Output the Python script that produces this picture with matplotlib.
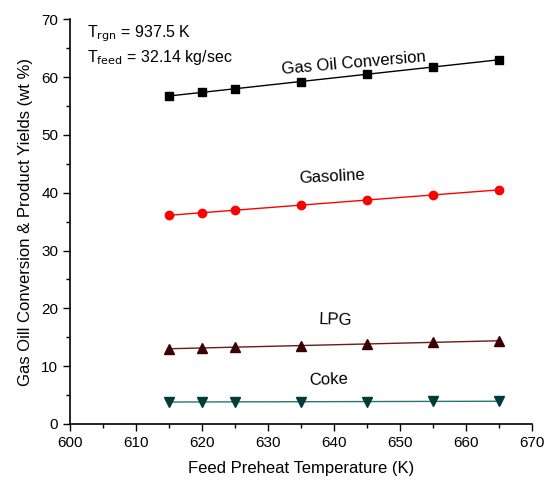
import matplotlib
matplotlib.use("Agg")
import matplotlib.pyplot as plt
import numpy as np
from matplotlib.ticker import MultipleLocator

plt.rcParams['font.family'] = ['Liberation Sans', 'DejaVu Sans']

temps = [615, 620, 625, 635, 645, 655, 665]
gas_oil = [56.7, 57.4, 57.95, 59.2, 60.5, 61.7, 63.0]
gasoline = [36.1, 36.5, 37.0, 37.85, 38.7, 39.6, 40.5]
lpg = [13.0, 13.15, 13.3, 13.55, 13.85, 14.1, 14.4]
coke = [3.8, 3.8, 3.85, 3.85, 3.85, 3.9, 3.95]

fig = plt.figure(figsize=(5.44, 4.8), dpi=100)
ax = fig.add_axes([0.1287, 0.1167, 0.849, 0.8433])

series = [
    (gas_oil, 's', 'black', 'black', 5.5),
    (gasoline, 'o', 'red', 'red', 6),
    (lpg, '^', '#3d0000', '#6b1a1a', 6.5),
    (coke, 'v', '#003c3c', '#2a7373', 6.5),
]
x = np.array(temps, dtype=float)
for vals, m, mc, lc, ms in series:
    coef = np.polyfit(x, vals, 1)
    ax.plot(x, np.polyval(coef, x), '-', color=lc, lw=1.0, zorder=2)
    ax.plot(x, vals, linestyle='none', marker=m, color=mc, ms=ms, zorder=3)

ax.set_xlim(600, 670)
ax.set_ylim(0, 70)
ax.xaxis.set_major_locator(MultipleLocator(10))
ax.xaxis.set_minor_locator(MultipleLocator(5))
ax.yaxis.set_major_locator(MultipleLocator(10))
ax.yaxis.set_minor_locator(MultipleLocator(5))
ax.tick_params(which='major', direction='out', length=5, width=1, labelsize=11)
ax.tick_params(which='minor', direction='out', length=3, width=1)
for s in ['top', 'right']:
    ax.spines[s].set_visible(False)
for s in ['left', 'bottom']:
    ax.spines[s].set_linewidth(1.2)

ax.set_xlabel('Feed Preheat Temperature (K)', fontsize=12, labelpad=8)
ax.set_ylabel('Gas Oill Conversion & Product Yields (wt %)', fontsize=12, labelpad=6)

ax.text(643, 62.4, 'Gas Oil Conversion', fontsize=12, ha='center', va='center', rotation=5)
ax.text(639.7, 42.7, 'Gasoline', fontsize=12, ha='center', va='center', rotation=3)
ax.text(640.2, 17.9, 'LPG', fontsize=12, ha='center', va='center', rotation=-2)
ax.text(639.1, 7.6, 'Coke', fontsize=12, ha='center', va='center', rotation=2)

ax.text(0.036, 0.965, r'T$_{\mathrm{rgn}}$ = 937.5 K', transform=ax.transAxes, fontsize=11.5, ha='left', va='center')
ax.text(0.036, 0.905, r'T$_{\mathrm{feed}}$ = 32.14 kg/sec', transform=ax.transAxes, fontsize=11.5, ha='left', va='center')

fig.savefig('out.png', dpi=100)
